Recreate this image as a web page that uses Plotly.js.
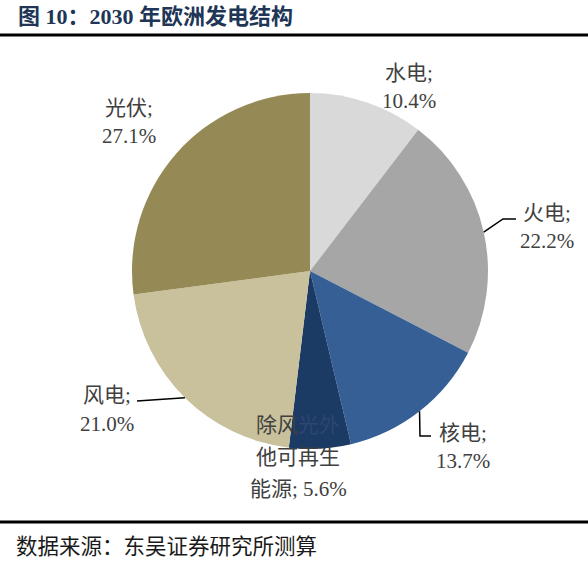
<!DOCTYPE html>
<html>
<head>
<meta charset="utf-8">
<script src="https://cdn.plot.ly/plotly-3.0.1.min.js"></script>
<style>
  html, body { margin: 0; padding: 0; background: #ffffff; }
  #chart { width: 588px; height: 562px; }
</style>
</head>
<body>
<div id="chart"></div>
<script>
// 2030 年欧洲发电结构 - pie chart
const categories = ['水电', '火电', '核电', '除风光外其他可再生能源', '风电', '光伏'];
const shares = [10.4, 22.2, 13.7, 5.6, 21.0, 27.1];
const sliceColors = ['#d9d9d9', '#a6a6a6', '#365f96', '#1b3a64', '#c8c19b', '#958a55'];

// label lines per category (text only); the part sitting on the dark slice is dimmed
const labelLines = [
  ['水电;', '10.4%'],
  ['火电;', '22.2%'],
  ['核电;', '13.7%'],
  ['除风<span style="color:#2e4670">光外</span>', '他可再生', '能源; 5.6%'],
  ['风电;', '21.0%'],
  ['光伏;', '27.1%']
];

// page geometry (pixels)
const W = 588, H = 562;
const CX = 310, CY = 271, R = 178;
const FONT = '"Liberation Serif", "Times New Roman", "Noto Sans CJK SC", serif';

// label anchor (center of first line, px) and line step
const labelPos = [
  { x: 409, y: 73, step: 28 },
  { x: 547, y: 213, step: 28 },
  { x: 463, y: 433, step: 28 },
  { x: 298, y: 425, step: 32 },
  { x: 107, y: 395, step: 29 },
  { x: 129, y: 108, step: 28 }
];

// leader lines: which slices get one, and the elbow/end points (px)
const leaders = {
  1: [[503, 219], [516, 219]],
  2: [[420, 436], [431, 436]],
  4: [[137, 401]]
};

const px = x => x / W;
const py = y => 1 - y / H;

function midPoint(i) {
  const total = shares.reduce((a, b) => a + b, 0);
  let before = 0;
  for (let k = 0; k < i; k++) before += shares[k];
  const ang = (before + shares[i] / 2) / total * 2 * Math.PI;
  return [CX + R * Math.sin(ang), CY - R * Math.cos(ang)];
}

const data = [{
  type: 'pie',
  values: shares,
  labels: categories,
  sort: false,
  direction: 'clockwise',
  rotation: 0,
  textinfo: 'none',
  hoverinfo: 'label+percent',
  marker: { colors: sliceColors, line: { width: 0 } },
  domain: { x: [px(CX - R), px(CX + R)], y: [py(CY + R), py(CY - R)] },
  showlegend: false
}];

const annotations = [];
labelLines.forEach((lines, i) => {
  const p = labelPos[i];
  lines.forEach((t, j) => {
    annotations.push({
      xref: 'paper', yref: 'paper',
      x: px(p.x), y: py(p.y + j * p.step),
      xanchor: 'center', yanchor: 'middle',
      text: t, showarrow: false,
      font: { family: FONT, size: 21, color: '#404040' }
    });
  });
});

annotations.push({
  xref: 'paper', yref: 'paper', x: px(16), y: py(16),
  xanchor: 'left', yanchor: 'middle',
  text: '<b>图 10：2030 年欧洲发电结构</b>', showarrow: false,
  font: { family: FONT, size: 22, color: '#213656' }
});
annotations.push({
  xref: 'paper', yref: 'paper', x: px(14), y: py(547),
  xanchor: 'left', yanchor: 'middle',
  text: '数据来源：东吴证券研究所测算', showarrow: false,
  font: { family: FONT, size: 21.5, color: '#1a1a1a' }
});

const shapes = [
  { type: 'line', xref: 'paper', yref: 'paper', x0: 0, x1: 1, y0: py(35), y1: py(35),
    line: { color: '#000000', width: 3 } },
  { type: 'line', xref: 'paper', yref: 'paper', x0: 0, x1: 1, y0: py(522), y1: py(522),
    line: { color: '#000000', width: 3 } }
];

Object.keys(leaders).forEach(k => {
  const pts = [midPoint(+k)].concat(leaders[k]);
  const path = pts.map((p, j) => (j === 0 ? 'M ' : 'L ') + px(p[0]) + ' ' + py(p[1])).join(' ');
  shapes.push({ type: 'path', xref: 'paper', yref: 'paper', path: path,
    line: { color: '#000000', width: 1.5 } });
});

const layout = {
  width: W, height: H,
  margin: { t: 0, b: 0, l: 0, r: 0 },
  paper_bgcolor: 'white',
  plot_bgcolor: 'white',
  annotations: annotations,
  shapes: shapes
};

Plotly.newPlot('chart', data, layout, { displayModeBar: false, staticPlot: true });
</script>
</body>
</html>
